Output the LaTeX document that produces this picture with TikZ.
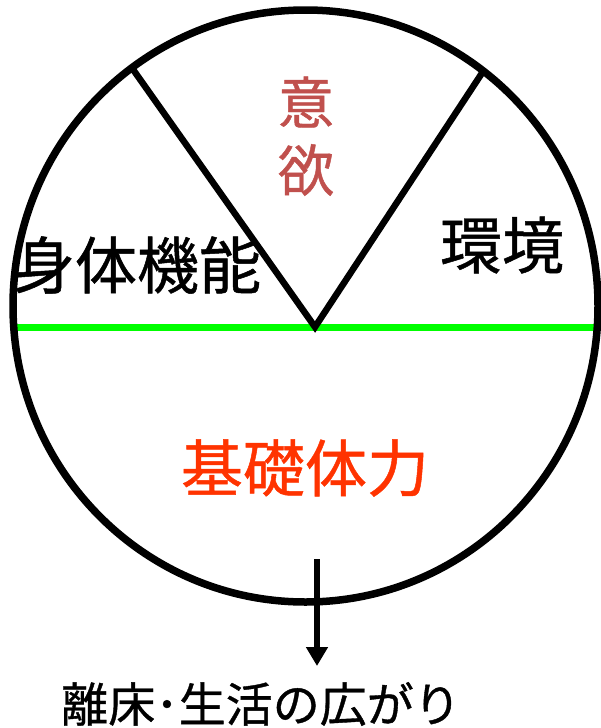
\documentclass[tikz,border=0pt]{standalone}
\usepackage{fontspec}
\newfontfamily\jp[FakeBold=0.8]{Noto Sans CJK JP}
\usetikzlibrary{arrows.meta}
\definecolor{willred}{HTML}{C0504D}
\definecolor{baseorange}{HTML}{FF3300}
\definecolor{lineGreen}{HTML}{00FF00}
\tikzset{
  lbl/.style={inner sep=0pt, font=\jp},
  rim/.style={line width=7.5pt, black},
  vline/.style={line width=6.5pt, black, line join=miter},
  gline/.style={line width=7pt, lineGreen},
  outarrow/.style={line width=6pt, black, -{Triangle[width=21pt,length=19pt]}}
}
\begin{document}
\begin{tikzpicture}[x=1pt,y=-1pt]
\useasboundingbox (0,0) rectangle (601,728);
\coordinate (c) at (305.5,306);
\coordinate (gl) at (14,327);
\coordinate (gr) at (597.5,327);
\coordinate (o) at (315,327);
\coordinate (vl) at (132,68);
\coordinate (vr) at (484,70);
\coordinate (as) at (317,559);
\coordinate (ae) at (317,666);
% green horizontal line
\draw[gline] (gl) -- (o) -- (gr);
% circle
\draw[rim] (c) ellipse [x radius=292.5pt, y radius=296pt];
% V lines
\draw[vline] (vl) -- (o) -- (vr);
% arrow
\draw[outarrow] (as) -- (ae);
% labels
\node[lbl, text=willred, font=\jp\fontsize{56}{60}\selectfont] (i1) at (306,102) {意};
\node[lbl, text=willred, font=\jp\fontsize{56}{60}\selectfont] (i2) at (306,170) {欲};
\node[lbl, font=\jp\fontsize{62}{70}\selectfont] (body) at (137,265) {身体機能};
\node[lbl, font=\jp\fontsize{62}{70}\selectfont] (env) at (502,245) {環境};
\node[lbl, text=baseorange, font=\jp\fontsize{62}{70}\selectfont] (base) at (305,468) {基礎体力};
\node[lbl, font=\jp\fontsize{47}{50}\selectfont] (bt) at (261,704) {離床･生活の広がり};
\end{tikzpicture}
\end{document}
